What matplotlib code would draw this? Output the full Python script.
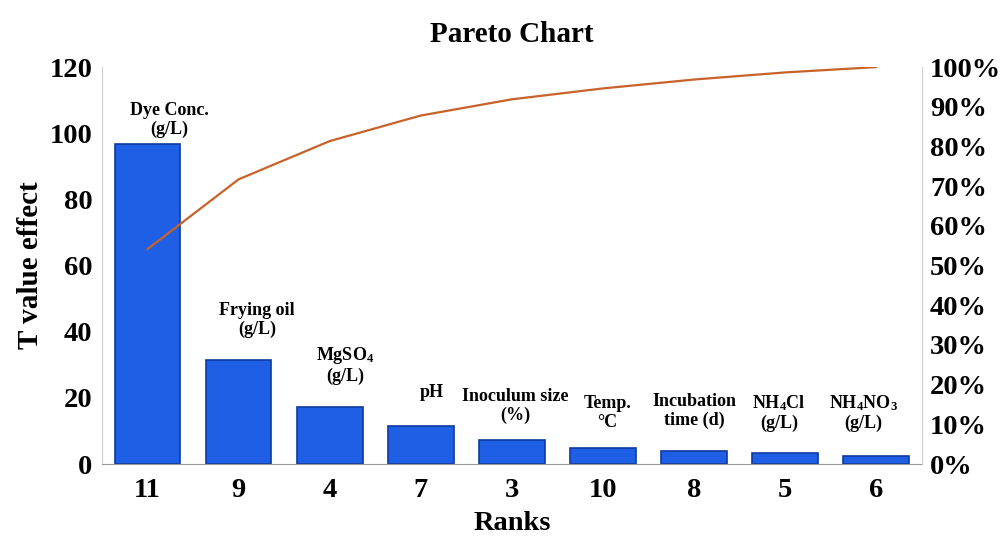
import numpy as np
import matplotlib
matplotlib.use("Agg")
import matplotlib.pyplot as plt
from matplotlib.ticker import FuncFormatter

plt.rcParams['font.family'] = ['Liberation Serif', 'DejaVu Serif']
plt.rcParams['font.weight'] = 'bold'
plt.rcParams['mathtext.default'] = 'regular'

# data
ranks = ['11', '9', '4', '7', '3', '10', '8', '5', '6']
t_values = [96.7, 31.4, 17.2, 11.5, 7.3, 4.9, 4.0, 3.2, 2.4]
factors = ['Dye Conc.\n(g/L)', 'Frying oil\n(g/L)', 'MgSO$_4$\n(g/L)', 'pH',
           'Inoculum size\n(%)', 'Temp.\n°C', 'Incubation\ntime (d)',
           'NH$_4$Cl\n(g/L)', 'NH$_4$NO$_3$\n(g/L)']

# where the factor names sit (layout only)
label_y = [104, 43.5, 30, 21.5, 17.5, 15.5, 16, 15.5, 15.5]
label_dx = [0.24, 0.2, 0.17, 0.12, 0.04, 0.05, 0.0, -0.07, -0.14]

x = np.arange(len(ranks))
cum = np.cumsum(t_values) / np.sum(t_values) * 100

fig, ax = plt.subplots(figsize=(10.03, 5.41), dpi=100)
fig.subplots_adjust(left=0.1017, right=0.919, bottom=0.1423, top=0.876)

ax.bar(x, t_values, width=0.72, color='#1f5fe6', edgecolor='#0d3a9e', linewidth=1.2, zorder=2)
for xi, lab, ly, dx in zip(x, factors, label_y, label_dx):
    ax.text(xi + dx, ly, lab, ha='center', va='center', fontsize=13,
            fontweight='bold', linespacing=1.15)

ax.set_xlim(-0.5, len(ranks) - 0.5)
ax.set_ylim(0, 120)
ax.set_yticks(range(0, 121, 20))
ax.set_xticks(x)
ax.set_xticklabels(ranks)
ax.tick_params(axis='y', length=0, labelsize=20.5, pad=7)
ax.tick_params(axis='x', length=0, labelsize=20.5, pad=10)
ax.set_ylabel('T value effect', fontsize=21, fontweight='bold', labelpad=4)
ax.set_xlabel('Ranks', fontsize=20.5, fontweight='bold', labelpad=6)
ax.set_title('Pareto Chart', fontsize=21, fontweight='bold', pad=18)

ax.spines['top'].set_visible(False)
ax.spines['right'].set_visible(False)
ax.spines['left'].set_color('#cfcfcf')
ax.spines['bottom'].set_color('#9a9a9a')

ax2 = ax.twinx()
ax2.plot(x, cum, color='#c8622a', linewidth=1.6, zorder=3)
ax2.set_ylim(0, 100)
ax2.set_yticks(range(0, 101, 10))
ax2.yaxis.set_major_formatter(FuncFormatter(lambda v, p: f'{int(v)}%'))
ax2.tick_params(length=0, labelsize=20.5, pad=6)
ax2.spines['top'].set_visible(False)
ax2.spines['left'].set_visible(False)
ax2.spines['bottom'].set_visible(False)
ax2.spines['right'].set_color('#cfcfcf')

fig.savefig('out.png', dpi=100)
